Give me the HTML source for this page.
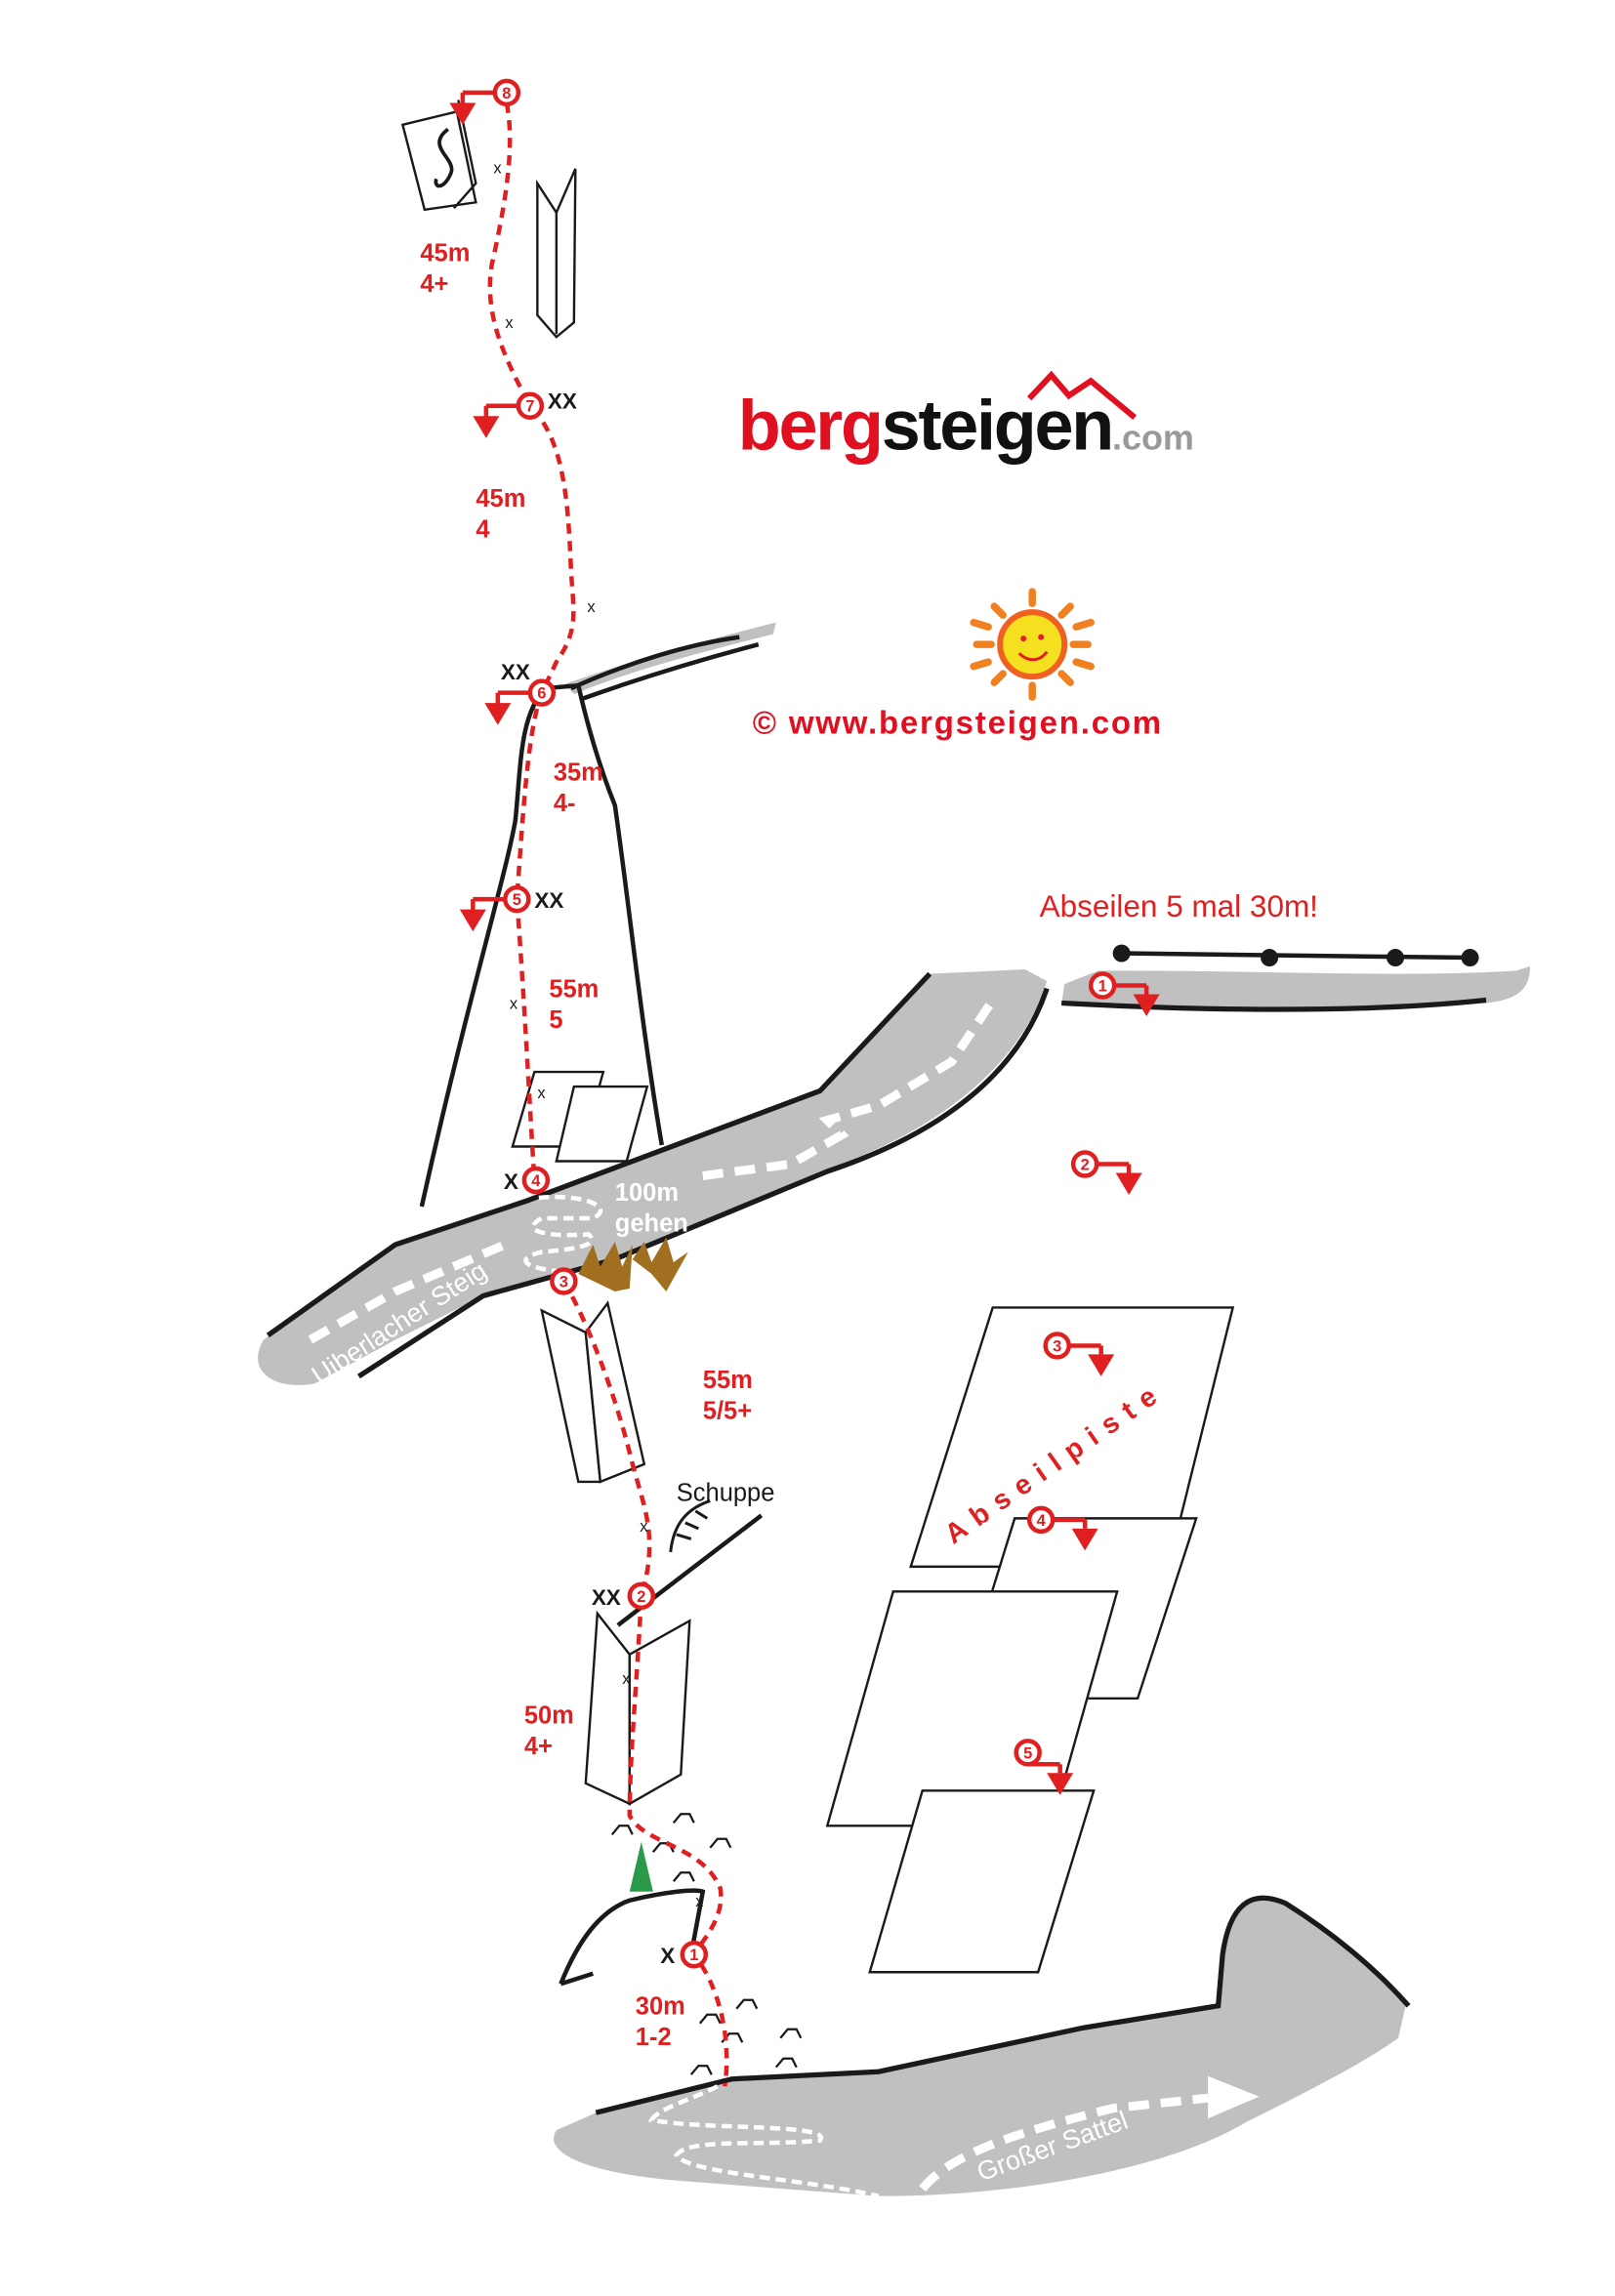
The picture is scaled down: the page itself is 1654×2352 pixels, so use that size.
<!DOCTYPE html>
<html><head><meta charset="utf-8"><style>html,body{margin:0;padding:0;background:#fff}svg{display:block}</style></head>
<body>
<svg width="1654" height="2352" viewBox="0 0 1103 1568" xmlns="http://www.w3.org/2000/svg" font-family="Liberation Sans, sans-serif">
<defs>
<g id="anc"><line x1="0" y1="0" x2="-22" y2="0" stroke="#e02020" stroke-width="3"/><line x1="-22" y1="0" x2="-22" y2="8" stroke="#e02020" stroke-width="3"/><polygon points="-31,7 -13,7 -22,22" fill="#e02020"/></g>
<g id="ancR"><line x1="0" y1="0" x2="22" y2="0" stroke="#e02020" stroke-width="3"/><line x1="22" y1="0" x2="22" y2="6" stroke="#e02020" stroke-width="3"/><polygon points="13,6 31,6 22,21" fill="#e02020"/></g>
</defs>
<!-- gray bands -->
<path d="M386,467 C420,455 470,440 530,425 L528,433 C480,445 430,458 392,474 Z" fill="#c0c0c0"/>
<path d="M390,470 C430,452 470,440 505,435 M398,477 C440,462 480,450 518,440" stroke="#1a1a1a" stroke-width="3" fill="none"/>
<path d="M180,915 L270,850 L360,820 L560,745 L635,665 L700,662 L715,670 C700,720 650,770 560,800 L420,860 L330,885 L270,915 L215,945 C185,950 168,935 180,915 Z" fill="#c0c0c0"/>
<path d="M183,912 L270,850 L360,820 L560,745 L635,665" stroke="#1a1a1a" stroke-width="3.5" fill="none"/>
<path d="M715,675 C695,735 640,775 565,800 L420,860 L330,885 L245,940" stroke="#1a1a1a" stroke-width="3.5" fill="none"/>
<path d="M727,672 L750,663 C850,662 950,668 1035,663 L1045,660 C1045,680 1030,683 1015,685 C920,690 830,692 725,686 Z" fill="#c0c0c0"/>
<path d="M725,685 C820,690 930,692 1015,683" stroke="#1a1a1a" stroke-width="3.5" fill="none"/>
<path d="M407,1443 L500,1420 L600,1415 L740,1385 L832,1370 L835,1335 C840,1300 860,1290 880,1300 C910,1320 940,1345 960,1370 L955,1392 C930,1410 890,1430 850,1450 C800,1480 700,1500 600,1500 L470,1490 C400,1485 370,1470 380,1455 Z" fill="#c0c0c0"/>
<path d="M407,1443 L500,1420 L600,1415 L740,1385 L832,1370 L835,1335 C840,1300 855,1290 878,1300 C910,1320 940,1345 962,1370" stroke="#1a1a1a" stroke-width="3.5" fill="none"/>
<!-- white dashed paths -->
<path d="M212,915 L270,882 L345,850" stroke="#fff" stroke-width="6" stroke-dasharray="14,8" fill="none"/>
<path d="M480,803 L540,795 L575,775 L565,765 L600,755 L650,725 L680,680" stroke="#fff" stroke-width="6" stroke-dasharray="14,8" fill="none"/>
<path d="M368,818 C400,815 420,825 405,832 L370,832 C355,840 370,845 402,843 C410,850 395,853 370,855 C350,860 360,866 380,868" stroke="#fff" stroke-width="3" stroke-dasharray="7,4" fill="none"/>
<path d="M490,1425 C470,1435 450,1440 445,1448 C480,1455 570,1450 560,1462 C520,1466 470,1460 462,1472 C470,1485 550,1488 600,1500" stroke="#fff" stroke-width="3" stroke-dasharray="7,4" fill="none"/>
<path d="M630,1495 C650,1470 700,1455 760,1440 L825,1433" stroke="#fff" stroke-width="6" stroke-dasharray="14,8" fill="none"/>
<polygon points="825,1418 860,1432 825,1447" fill="#fff"/>
<text x="0" y="0" transform="translate(218,946) rotate(-33)" fill="#fff" font-size="18">Uiberlacher Steig</text>
<text x="0" y="0" transform="translate(670,1490) rotate(-20)" fill="#fff" font-size="18">Großer Sattel</text>
<text x="420" y="820" fill="#fff" font-size="17" font-weight="bold">100m</text>
<text x="420" y="841" fill="#fff" font-size="17" font-weight="bold">gehen</text>
<!-- rock lines -->
<path d="M288,824 C320,680 345,600 352,560 C356,520 355,490 372,470 L395,468 C400,490 408,520 420,550 C430,620 438,700 452,782" stroke="#1a1a1a" stroke-width="3" fill="none"/>
<g stroke="#1a1a1a" stroke-width="1.6" fill="#fff">
<polygon points="275,85 312,76 325,138 290,143"/>
<polyline points="313,68 325,125 310,142" fill="none"/>
<polygon points="367,125 380,145 393,115 392,220 380,230 367,215"/>
<line x1="380" y1="145" x2="380" y2="228"/>
<polygon points="365,732 412,732 398,783 350,783"/>
<polygon points="392,742 442,742 428,793 380,793"/>
<polygon points="370,895 400,910 410,1012 395,1012"/>
<polygon points="400,910 415,890 440,1000 410,1012"/>
<polygon points="408,1102 430,1130 430,1232 400,1218"/>
<polygon points="430,1130 471,1107 465,1212 430,1232"/>
<polygon points="678,893 842,893 798,1070 622,1070"/>
<polygon points="693,1037 817,1037 777,1160 655,1160"/>
<polygon points="610,1087 763,1087 718,1247 565,1247"/>
<polygon points="630,1223 747,1223 709,1347 594,1347"/>
</g>
<path d="M306,88 C290,100 312,108 308,118 C303,130 296,128 298,122" stroke="#1a1a1a" stroke-width="2.5" fill="none"/>
<line x1="422" y1="1110" x2="520" y2="1035" stroke="#1a1a1a" stroke-width="3"/>
<path d="M458,1060 C460,1040 470,1030 485,1025 M462,1048 l10,3 M468,1040 l9,4 M475,1032 l8,5" stroke="#1a1a1a" stroke-width="2" fill="none"/>
<path d="M383,1355 C395,1325 410,1305 430,1298 C455,1292 475,1290 480,1292 L472,1335 M383,1355 L405,1348" stroke="#1a1a1a" stroke-width="3" fill="none"/>
<g stroke="#1a1a1a" stroke-width="1.5" fill="none">
<path d="M418,1253 l5,-6 l6,0 l3,6 M460,1245 l5,-6 l6,0 l3,6 M485,1262 l5,-6 l6,0 l3,6 M446,1265 l5,-6 l6,0 l3,6 M460,1285 l5,-6 l6,0 l3,6 M503,1372 l5,-6 l6,0 l3,6 M478,1382 l5,-6 l6,0 l3,6 M493,1395 l5,-6 l6,0 l3,6 M533,1392 l5,-6 l6,0 l3,6 M472,1417 l5,-6 l6,0 l3,6 M530,1412 l5,-6 l6,0 l3,6"/>
</g>
<polygon points="438,1258 446,1292 430,1292" fill="#2a9a4a"/>
<g fill="#a07020"><polygon points="395,870 405,850 410,865 420,848 425,865 432,850 430,880 420,882"/><polygon points="432,860 440,848 445,862 455,845 460,862 470,855 455,882 445,870"/></g>
<!-- route -->
<path d="M346,70 C352,100 345,140 336,180 C330,215 345,245 362,277 C385,300 388,340 390,390 C392,420 395,430 380,452 L370,473 C360,500 357,560 353,614 C358,680 362,760 365,806" stroke="#e02020" stroke-width="3" stroke-dasharray="7,5" fill="none"/>
<path d="M385,875 C400,900 420,950 432,1000 C440,1030 450,1050 438,1090 C435,1150 430,1200 430,1240 C440,1260 480,1260 492,1290 C495,1310 480,1325 474,1335 C490,1355 500,1390 495,1425" stroke="#e02020" stroke-width="3" stroke-dasharray="7,5" fill="none"/>
<g fill="#fff" stroke="#e02020" stroke-width="3">
<circle cx="346" cy="63" r="8"/><circle cx="362" cy="277" r="8"/><circle cx="370" cy="473" r="8"/><circle cx="353" cy="614" r="8"/><circle cx="366" cy="806" r="8"/><circle cx="385" cy="875" r="8"/><circle cx="438" cy="1090" r="8"/><circle cx="474" cy="1335" r="8"/>
<circle cx="753" cy="673" r="8"/><circle cx="741" cy="795" r="8"/><circle cx="722" cy="919" r="8"/><circle cx="711" cy="1038" r="8"/><circle cx="702" cy="1197" r="8"/>
</g>
<g fill="#e02020" font-size="11" font-weight="bold" text-anchor="middle">
<text x="346" y="67">8</text><text x="362" y="281">7</text><text x="370" y="477">6</text><text x="353" y="618">5</text><text x="366" y="810">4</text><text x="385" y="879">3</text><text x="438" y="1094">2</text><text x="474" y="1339">1</text>
<text x="753" y="677">1</text><text x="741" y="799">2</text><text x="722" y="923">3</text><text x="711" y="1042">4</text><text x="702" y="1201">5</text>
</g>
<use href="#anc" x="338" y="63"/><use href="#anc" x="354" y="277"/><use href="#anc" x="362" y="473"/><use href="#anc" x="345" y="614"/>
<use href="#ancR" x="761" y="673"/><use href="#ancR" x="749" y="795"/><use href="#ancR" x="730" y="919"/><use href="#ancR" x="719" y="1038"/><use href="#ancR" x="702" y="1205"/>
<!-- labels -->
<g fill="#e02020" font-size="17" font-weight="bold">
<text x="287" y="178">45m</text><text x="287" y="199">4+</text>
<text x="325" y="346">45m</text><text x="325" y="367">4</text>
<text x="378" y="533">35m</text><text x="378" y="554">4-</text>
<text x="375" y="681">55m</text><text x="375" y="702">5</text>
<text x="480" y="948">55m</text><text x="480" y="969">5/5+</text>
<text x="358" y="1177">50m</text><text x="358" y="1198">4+</text>
<text x="434" y="1376">30m</text><text x="434" y="1397">1-2</text>
</g>
<g fill="#1a1a1a" font-size="15" font-weight="bold">
<text x="374" y="279">XX</text><text x="342" y="464">XX</text><text x="365" y="620">XX</text><text x="344" y="812">X</text><text x="404" y="1096">XX</text><text x="451" y="1341">X</text>
</g>
<g fill="#1a1a1a" font-size="11"><text x="337" y="118">x</text><text x="345" y="224">x</text><text x="401" y="418">x</text><text x="348" y="689">x</text><text x="367" y="750">x</text><text x="437" y="1046">x</text><text x="425" y="1150">x</text><text x="475" y="1302">x</text></g>
<text x="462" y="1025" fill="#1a1a1a" font-size="17">Schuppe</text>
<text x="0" y="0" transform="translate(651,1055) rotate(-35)" fill="#e02020" font-size="19" font-weight="bold" letter-spacing="7">Abseilpiste</text>
<text x="710" y="626" fill="#e02020" font-size="21">Abseilen 5 mal 30m!</text>
<line x1="766" y1="651" x2="1004" y2="654" stroke="#1a1a1a" stroke-width="3"/>
<g fill="#1a1a1a"><circle cx="766" cy="651" r="6"/><circle cx="867" cy="654" r="6"/><circle cx="953" cy="654" r="6"/><circle cx="1004" cy="654" r="6"/></g>
<!-- logo -->
<text x="504" y="307" font-size="48" font-weight="bold" letter-spacing="-1.5" font-family="Liberation Sans Narrow, Liberation Sans, sans-serif"><tspan fill="#e01020">berg</tspan><tspan fill="#111">steigen</tspan><tspan fill="#999" font-size="24" letter-spacing="0">.com</tspan></text>
<polyline points="703,272 718,256 730,270 745,260 775,285" stroke="#e01020" stroke-width="4" fill="none"/>
<!-- sun -->
<g transform="translate(705,440)">
<g stroke="#f08020" stroke-width="5" stroke-linecap="round">
<line x1="0" y1="-28" x2="0" y2="-36"/><line x1="20" y1="-20" x2="26" y2="-26"/><line x1="28" y1="0" x2="38" y2="0"/><line x1="20" y1="20" x2="26" y2="26"/><line x1="0" y1="28" x2="0" y2="36"/><line x1="-20" y1="20" x2="-26" y2="26"/><line x1="-28" y1="0" x2="-38" y2="0"/><line x1="-20" y1="-20" x2="-26" y2="-26"/>
<line x1="30" y1="-12" x2="40" y2="-15"/><line x1="30" y1="12" x2="40" y2="15"/><line x1="-30" y1="12" x2="-40" y2="15"/><line x1="-30" y1="-12" x2="-40" y2="-15"/>
</g>
<circle r="22" fill="#f5e020" stroke="#f06020" stroke-width="4"/>
<circle cx="-6" cy="-4" r="2" fill="#e02020"/><circle cx="6" cy="-5" r="2" fill="#e02020"/>
<path d="M-9,6 C-3,12 5,12 10,5" stroke="#e02020" stroke-width="2" fill="none"/>
</g>
<text x="514" y="501" fill="#e01020" font-size="22" font-weight="bold" textLength="279">©  www.bergsteigen.com</text>
</svg>
</body></html>
